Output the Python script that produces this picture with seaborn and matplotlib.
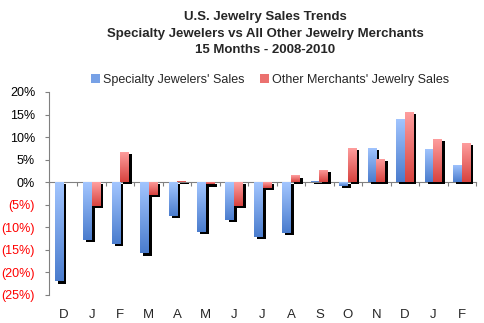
import numpy as np
import pandas as pd
import matplotlib
matplotlib.use("Agg")
import matplotlib.pyplot as plt
import matplotlib.patheffects as pe
from matplotlib.colors import LinearSegmentedColormap
from matplotlib.patches import Patch
from matplotlib.ticker import FuncFormatter
import seaborn as sns

# ---- data ----
months = ["D", "J", "F", "M", "A", "M", "J", "J", "A", "S", "O", "N", "D", "J", "F"]
specialty = [-22.0, -12.7, -13.6, -15.8, -7.4, -11.0, -8.3, -12.1, -11.2, 0.3, -0.8, 7.6, 14.1, 7.4, 3.8]
other = [0.0, -5.2, 6.7, -2.9, 0.3, -0.5, -5.2, -1.2, 1.5, 2.7, 7.6, 5.1, 15.6, 9.6, 8.7]
series_names = ["Specialty Jewelers' Sales", "Other Merchants' Jewelry Sales"]
title_lines = ["U.S. Jewelry Sales Trends",
               "Specialty Jewelers vs All Other Jewelry Merchants",
               "15 Months - 2008-2010"]
yticks = [-25, -20, -15, -10, -5, 0, 5, 10, 15, 20]

n = len(months)
df = pd.DataFrame({
    "period": list(range(n)) * 2,
    "value": specialty + other,
    "series": [series_names[0]] * n + [series_names[1]] * n,
})

sns.set_style("white")
plt.rcParams["font.family"] = ["Liberation Sans", "DejaVu Sans"]

fig = plt.figure(figsize=(4.84, 3.23), dpi=100)
ax = fig.add_axes([49 / 484, 28 / 323, 427 / 484, 203 / 323])

light = {series_names[0]: "#a3c6ff", series_names[1]: "#ffa0a0"}
dark = {series_names[0]: "#4a7ccd", series_names[1]: "#d7423e"}

sns.barplot(data=df, x="period", y="value", hue="series", hue_order=series_names,
            palette=dark, width=0.6, saturation=1, legend=False, ax=ax,
            errorbar=None)

ax.set_xlim(-0.5, n - 0.5)
ax.set_ylim(-25, 20)

grad = np.linspace(0, 1, 256).reshape(-1, 1)
for k, (name, cont) in enumerate(zip(series_names, ax.containers)):
    cmap = LinearSegmentedColormap.from_list(name, [dark[name], light[name]])
    for bar in cont:
        z = 2 + k
        bar.set_zorder(z)
        bar.set_edgecolor("none")
        h = bar.get_height()
        if h == 0:
            continue
        bar.set_path_effects([pe.withSimplePatchShadow(offset=(2.2, -1.5),
                                                       shadow_rgbFace="black", alpha=1),
                              pe.Normal()])
        x0 = bar.get_x()
        x1 = x0 + bar.get_width()
        y0 = min(bar.get_y(), bar.get_y() + h)
        y1 = max(bar.get_y(), bar.get_y() + h)
        im = ax.imshow(grad, extent=[x0, x1, y0, y1], origin="lower", aspect="auto",
                       cmap=cmap, zorder=z + 0.5, interpolation="bilinear")
        im.set_clip_path(bar)

ax.set_xlim(-0.5, n - 0.5)
ax.set_ylim(-25, 20)
ax.set_aspect("auto")

# axes styling
gray = "#808080"
for s in ["top", "right", "bottom"]:
    ax.spines[s].set_visible(False)
ax.spines["left"].set_color(gray)
ax.spines["left"].set_linewidth(0.8)

ax.set_yticks(yticks)
ax.yaxis.set_major_formatter(FuncFormatter(
    lambda v, p: f"{int(v)}%" if v >= 0 else f"({int(-v)}%)"))
ax.tick_params(axis="y", direction="out", length=3, width=0.8, color=gray,
               labelsize=9, pad=7, left=True)
for lab, v in zip(ax.get_yticklabels(), yticks):
    lab.set_color("#ff0000" if v < 0 else "black")

ax.set_xticks(range(n))
ax.set_xticklabels(months)
ax.tick_params(axis="x", length=0, labelsize=9.5, pad=10)
ax.set_xlabel("")
ax.set_ylabel("")

# zero line with category boundary ticks
sec = ax.secondary_xaxis(25 / 45)
sec.set_alignment("bottom")
sec.set_xticks(np.arange(-0.5, n, 1.0))
sec.tick_params(axis="x", direction="out", length=3, width=0.8, color=gray,
                labelbottom=False, labeltop=False)
for s in sec.spines.values():
    s.set_color(gray)
    s.set_linewidth(0.8)

# title
fig.text(0.548, 1 - 11 / 323, "\n".join(title_lines), ha="center", va="top",
         fontsize=9.5, fontweight="bold", linespacing=1.5)

# legend
handles = [Patch(facecolor=(np.array(matplotlib.colors.to_rgb(light[s])) +
                            np.array(matplotlib.colors.to_rgb(dark[s]))) / 2,
                 edgecolor="none") for s in series_names]
fig.legend(handles, series_names, loc="center", bbox_to_anchor=(0.558, 1 - 80 / 323),
           ncol=2, frameon=False, fontsize=9, handlelength=0.7, handleheight=0.7,
           handletextpad=0.3, columnspacing=1.2, borderpad=0)

fig.savefig("out.png", dpi=100)
